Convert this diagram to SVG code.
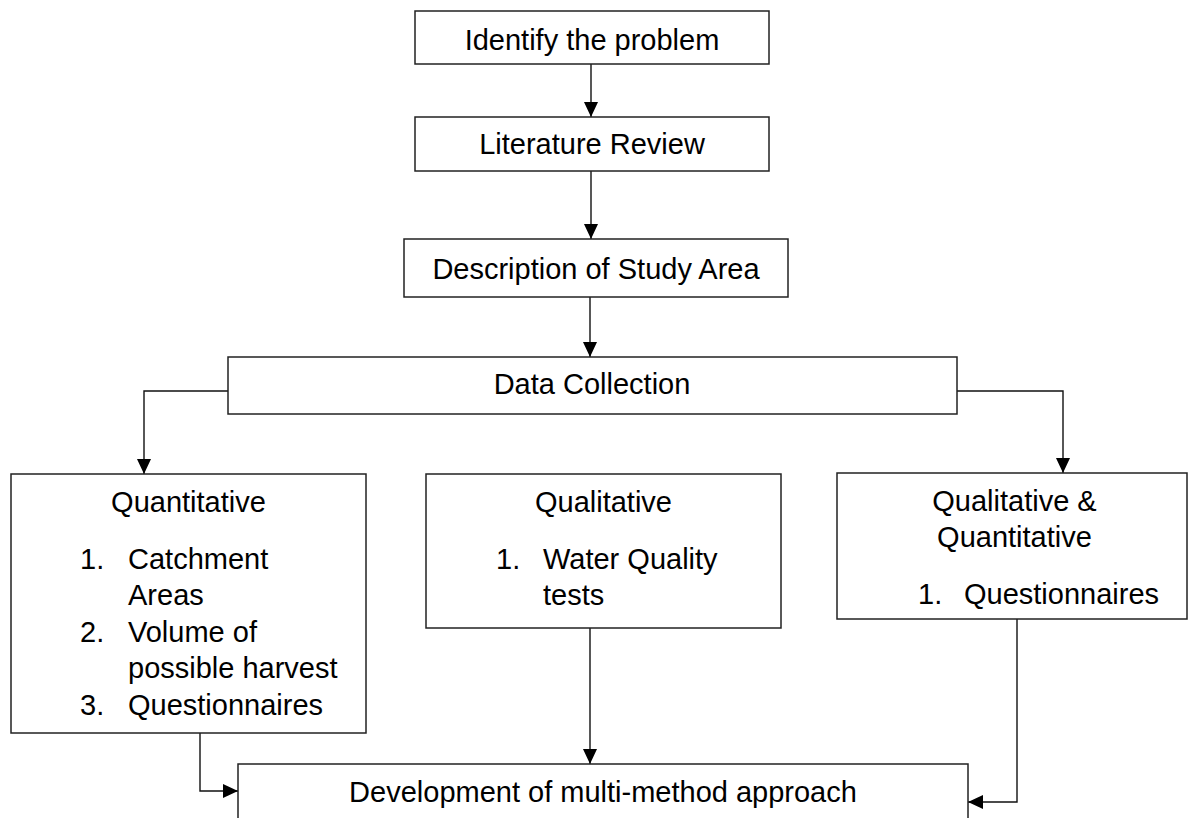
<svg xmlns="http://www.w3.org/2000/svg" width="1188" height="818" viewBox="0 0 1188 818">
  <defs>
    <style>
      .box { fill: #ffffff; stroke: #222222; stroke-width: 1.5; }
      .lbl { font-family: "Liberation Sans", Arial, sans-serif; font-size: 29px; fill: #000000; }
      .mid { text-anchor: middle; }
      .wire { fill: none; stroke: #111111; stroke-width: 1.4; }
    </style>
    <marker id="arrow" markerUnits="userSpaceOnUse" markerWidth="15" markerHeight="14" refX="15" refY="7" orient="auto">
      <path d="M0,0 L15,7 L0,14 z" fill="#000000"/>
    </marker>
  </defs>
  <rect width="1188" height="818" fill="#ffffff"/>

  <!-- connectors -->
  <g id="connectors">
    <line class="wire" x1="591" y1="64" x2="591" y2="117" marker-end="url(#arrow)"/>
    <line class="wire" x1="591" y1="171" x2="591" y2="239" marker-end="url(#arrow)"/>
    <line class="wire" x1="590" y1="297" x2="590" y2="357" marker-end="url(#arrow)"/>
    <polyline class="wire" points="228,391 144,391 144,474" marker-end="url(#arrow)"/>
    <polyline class="wire" points="957,391 1063,391 1063,473" marker-end="url(#arrow)"/>
    <polyline class="wire" points="200,733 200,791 238,791" marker-end="url(#arrow)"/>
    <line class="wire" x1="590" y1="628" x2="590" y2="764" marker-end="url(#arrow)"/>
    <polyline class="wire" points="1017,619 1017,802 968,802" marker-end="url(#arrow)"/>
  </g>

  <g id="identify">
    <rect class="box" x="415" y="11" width="354" height="53"/>
    <text class="lbl mid" x="592" y="50">Identify the problem</text>
  </g>

  <g id="literature">
    <rect class="box" x="415" y="117" width="354" height="54"/>
    <text class="lbl mid" x="592" y="154">Literature Review</text>
  </g>

  <g id="study-area">
    <rect class="box" x="404" y="239" width="384" height="58"/>
    <text class="lbl mid" x="596" y="279">Description of Study Area</text>
  </g>

  <g id="data-collection">
    <rect class="box" x="228" y="357" width="729" height="57"/>
    <text class="lbl mid" x="592" y="394">Data Collection</text>
  </g>

  <g id="quantitative">
    <rect class="box" x="11" y="474" width="355" height="259"/>
    <text class="lbl mid" x="188.5" y="512">Quantitative</text>
    <text class="lbl" x="80" y="569">1.</text>
    <text class="lbl" x="128" y="569">Catchment</text>
    <text class="lbl" x="128" y="605">Areas</text>
    <text class="lbl" x="80" y="642">2.</text>
    <text class="lbl" x="128" y="642">Volume of</text>
    <text class="lbl" x="128" y="678">possible harvest</text>
    <text class="lbl" x="80" y="715">3.</text>
    <text class="lbl" x="128" y="715">Questionnaires</text>
  </g>

  <g id="qualitative">
    <rect class="box" x="426" y="474" width="355" height="154"/>
    <text class="lbl mid" x="603.5" y="512">Qualitative</text>
    <text class="lbl" x="496" y="569">1.</text>
    <text class="lbl" x="543" y="569">Water Quality</text>
    <text class="lbl" x="543" y="605">tests</text>
  </g>

  <g id="mixed">
    <rect class="box" x="837" y="473" width="350" height="146"/>
    <text class="lbl mid" x="1014.5" y="511">Qualitative &amp;</text>
    <text class="lbl mid" x="1014.5" y="547">Quantitative</text>
    <text class="lbl" x="918" y="604">1.</text>
    <text class="lbl" x="964" y="604">Questionnaires</text>
  </g>

  <g id="multi-method">
    <rect class="box" x="238" y="764" width="730" height="80"/>
    <text class="lbl mid" x="603" y="802">Development of multi-method approach</text>
  </g>
</svg>
